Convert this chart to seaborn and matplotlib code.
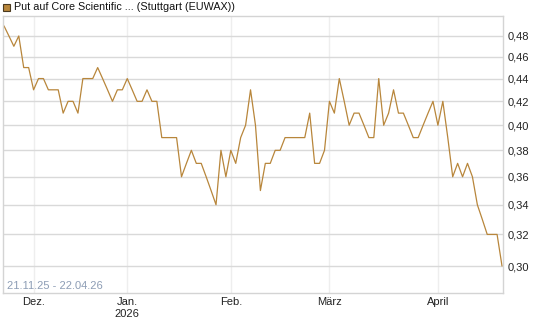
import pandas as pd
import matplotlib.pyplot as plt
import seaborn as sns
from matplotlib.patches import Rectangle
from matplotlib.ticker import FixedLocator, NullLocator

# Schlusskurse je Handelstag (21.11.25 - 22.04.26)
kurs = [0.49, 0.48, 0.47, 0.48, 0.45, 0.45, 0.43, 0.44, 0.44, 0.43,
        0.43, 0.43, 0.41, 0.42, 0.42, 0.41, 0.44, 0.44, 0.44, 0.45,
        0.44, 0.43, 0.42, 0.43, 0.43, 0.44, 0.43, 0.42, 0.42, 0.43,
        0.42, 0.42, 0.39, 0.39, 0.39, 0.39, 0.36, 0.37, 0.38, 0.37,
        0.37, 0.36, 0.35, 0.34, 0.38, 0.36, 0.38, 0.37, 0.39, 0.40,
        0.43, 0.40, 0.35, 0.37, 0.37, 0.38, 0.38, 0.39, 0.39, 0.39,
        0.39, 0.39, 0.41, 0.37, 0.37, 0.38, 0.42, 0.41, 0.44, 0.42,
        0.40, 0.41, 0.41, 0.40, 0.39, 0.39, 0.44, 0.40, 0.41, 0.43,
        0.41, 0.41, 0.40, 0.39, 0.39, 0.40, 0.41, 0.42, 0.40, 0.42,
        0.39, 0.36, 0.37, 0.36, 0.37, 0.36, 0.34, 0.33, 0.32, 0.32,
        0.32, 0.30]

# boersenfreie Tage
feiertage = ['2025-12-24', '2025-12-25', '2025-12-26', '2025-12-31',
             '2026-01-01', '2026-04-03', '2026-04-06']
monate = ['Dez.', 'Jan.\n2026', 'Feb.', 'März', 'April']
yticks = [0.30, 0.32, 0.34, 0.36, 0.38, 0.40, 0.42, 0.44, 0.46, 0.48]

datum = pd.bdate_range('2025-11-21', '2026-04-22')
datum = datum[~datum.isin(pd.to_datetime(feiertage))]
df = pd.DataFrame({'Datum': datum, 'Kurs': kurs})
df['pos'] = range(len(df))

# erster Handelstag je Monat
monatsanfang = df.groupby(df['Datum'].dt.to_period('M'))['pos'].min().iloc[1:]

sns.set_style('white')
plt.rcParams['font.family'] = ['Liberation Sans', 'DejaVu Sans']

farbe = '#b8863b'
fig = plt.figure(figsize=(5.45, 3.27), dpi=100)
ax = fig.add_axes([3/545, 1 - 293/327, 500/545, 277/327])
sns.lineplot(data=df, x='pos', y='Kurs', color=farbe, linewidth=0.9, ax=ax)

ax.set_yscale('log')
ax.set_ylim(0.2839, 0.500)
ax.set_xlim(-0.2, 101.2)
ax.yaxis.set_major_locator(FixedLocator(yticks))
ax.yaxis.set_minor_locator(NullLocator())
ax.set_yticklabels([f'{v:.2f}'.replace('.', ',') for v in yticks])
ax.yaxis.tick_right()
ax.set_xticks(monatsanfang.values)
ax.set_xticklabels(monate)
ax.set_xlabel('')
ax.set_ylabel('')

ax.grid(axis='y', color='#d9d9d9', lw=1)
ax.grid(axis='x', color='#eeeeee', lw=1)
ax.set_axisbelow(True)
ax.tick_params(length=0, labelsize=8, colors='#222222')
ax.tick_params(axis='y', pad=3)
ax.tick_params(axis='x', pad=3)
for s in ax.spines.values():
    s.set_color('#d4d4d4')
    s.set_linewidth(1)

ax.text(0.008, 0.006, '21.11.25 - 22.04.26', transform=ax.transAxes,
        color='#8d9db5', fontsize=8, va='bottom')

# Legende oben links
fig.patches.append(Rectangle((3/545, 1 - 11/327), 7/545, 7/327, transform=fig.transFigure,
                             facecolor=farbe, edgecolor='#4a3a20', lw=0.8))
fig.text(14/545, 1 - 7.5/327, 'Put auf Core Scientific ... (Stuttgart (EUWAX))',
         fontsize=7.75, va='center', color='#111111')

fig.savefig('out.png', dpi=100)
